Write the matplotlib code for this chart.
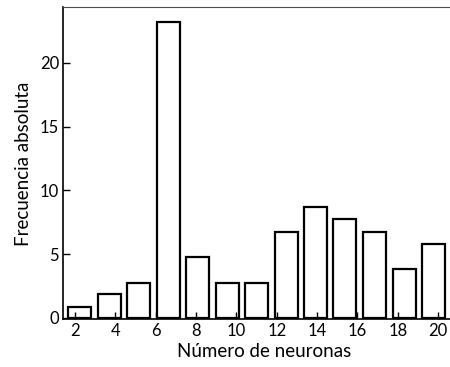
import matplotlib
matplotlib.use('Agg')
import matplotlib.pyplot as plt

# centros de los intervalos y frecuencias
centros = [2.23, 3.69, 5.15, 6.62, 8.08, 9.54, 11.0, 12.46, 13.92, 15.38, 16.85, 18.31, 19.77]
frecuencias = [0.85, 1.85, 2.7, 23.2, 4.75, 2.7, 2.75, 6.7, 8.65, 7.75, 6.7, 3.8, 5.8]
xticks = [2, 4, 6, 8, 10, 12, 14, 16, 18, 20]
yticks = [0, 5, 10, 15, 20]

plt.rcParams['font.family'] = ['Lato', 'DejaVu Sans']

fig = plt.figure(figsize=(4.5, 3.67), dpi=100, facecolor='white')
ax = fig.add_axes([0.1407, 0.13, 0.8593, 0.85])

ax.bar(centros, frecuencias, width=1.14, facecolor='white', edgecolor='black',
       linewidth=1.6)

ax.set_xlim(1.42, 20.59)
ax.set_ylim(-0.12, 24.35)
ax.set_xticks(xticks)
ax.set_yticks(yticks)
ax.tick_params(direction='in', length=5, width=1, labelsize=12, pad=3)

ax.spines['right'].set_visible(False)
ax.spines['top'].set_linewidth(0.8)
ax.spines['top'].set_color('0.3')
ax.spines['left'].set_linewidth(1.2)
ax.spines['bottom'].set_linewidth(1.2)

ax.set_xlabel('Número de neuronas', fontsize=13.5, labelpad=2.5)
ax.xaxis.label.set_x(0.52)  # en el original la etiqueta esta algo desplazada a la derecha
ax.set_ylabel('Frecuencia absoluta', fontsize=13.5, labelpad=6)

fig.savefig('out.png', dpi=100, facecolor='white')
